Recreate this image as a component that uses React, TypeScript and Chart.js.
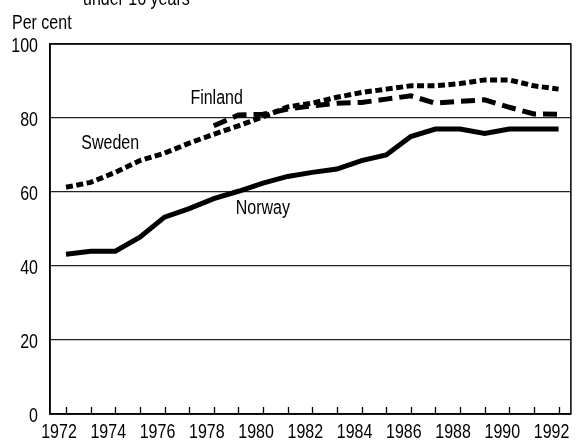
import React, { useEffect, useRef } from "react";
import { Chart, registerables } from "chart.js";

Chart.register(...registerables);

const years = [1972, 1973, 1974, 1975, 1976, 1977, 1978, 1979, 1980, 1981, 1982, 1983, 1984, 1985, 1986, 1987, 1988, 1989, 1990, 1991, 1992];
const norway = [43.2, 44, 44, 47.8, 53.2, 55.5, 58.2, 60.2, 62.4, 64.2, 65.3, 66.2, 68.5, 70, 75, 77, 77, 75.8, 77, 77, 77];
const sweden = [61.3, 62.6, 65.3, 68.5, 70.5, 73.2, 75.6, 77.9, 80.3, 83, 84, 85.6, 86.9, 87.8, 88.7, 88.7, 89.3, 90.3, 90.3, 88.7, 87.8];
const finland: (number | null)[] = [null, null, null, null, null, null, 77.9, 80.8, 81, 82.4, 83.3, 84, 84.2, 85.1, 86, 84, 84.5, 84.9, 82.9, 81.1, 81];
const yTicks = [0, 20, 40, 60, 80, 100];

const seriesLabels = [
  { text: "Finland", x: 1977.05, y: 85.2 },
  { text: "Sweden", x: 1972.62, y: 73.1 },
  { text: "Norway", x: 1978.89, y: 55.6 },
];

const FONT_FAMILY = '"Liberation Sans", Arial, sans-serif';
const FONT_SIZE = 20;
const CONDENSE = 0.8;

export default function App() {
  const ref = useRef<HTMLCanvasElement>(null);
  useEffect(() => {
    const canvas = ref.current;
    if (!canvas) return;
    const font = { family: FONT_FAMILY, size: FONT_SIZE };
    const condensedText = {
      id: "condensedText",
      beforeInit(chart: any) {
        const ctx = chart.ctx;
        if (ctx.__condensed) return;
        const orig = ctx.fillText.bind(ctx);
        ctx.fillText = function (text: string, x: number, y: number, maxWidth?: number) {
          ctx.save();
          ctx.translate(x, y);
          ctx.scale(CONDENSE, 1);
          if (maxWidth !== undefined) orig(text, 0, 0, maxWidth / CONDENSE);
          else orig(text, 0, 0);
          ctx.restore();
        };
        ctx.__condensed = true;
      },
    };
    const overlay = {
      id: "overlay",
      afterDatasetsDraw(chart: any) {
        const { ctx, chartArea, scales } = chart;
        const xs = scales.x;
        const ys = scales.y;
        ctx.save();
        ctx.strokeStyle = "#000";
        ctx.lineWidth = 1.5;
        ctx.strokeRect(chartArea.left, chartArea.top, chartArea.right - chartArea.left, chartArea.bottom - chartArea.top);
        ctx.lineWidth = 1.3;
        ctx.beginPath();
        years.forEach((yr) => {
          const px = Math.round(xs.getPixelForValue(yr)) + 0.5;
          ctx.moveTo(px, chartArea.bottom);
          ctx.lineTo(px, chartArea.bottom - 7);
        });
        ctx.stroke();
        ctx.fillStyle = "#000";
        ctx.font = `${FONT_SIZE}px ${FONT_FAMILY}`;
        ctx.textAlign = "left";
        ctx.textBaseline = "middle";
        seriesLabels.forEach((l) => {
          ctx.fillText(l.text, xs.getPixelForValue(l.x), ys.getPixelForValue(l.y));
        });
        ctx.textBaseline = "alphabetic";
        ctx.fillText("Per cent", 12, 29);
        ctx.fillText("under 16 years", 83, 5);
        ctx.restore();
      },
    };
    const chart = new Chart(canvas, {
      type: "line",
      data: {
        datasets: [
          {
            label: "Norway",
            data: years.map((y, i) => ({ x: y, y: norway[i] })),
            borderColor: "#000",
            borderWidth: 5,
            pointRadius: 0,
            tension: 0,
            fill: false,
          },
          {
            label: "Sweden",
            data: years.map((y, i) => ({ x: y, y: sweden[i] })),
            borderColor: "#000",
            borderWidth: 5,
            borderDash: [7, 3.5],
            borderCapStyle: "butt",
            pointRadius: 0,
            tension: 0,
            fill: false,
          },
          {
            label: "Finland",
            data: years.map((y, i) => ({ x: y, y: finland[i] as any })),
            borderColor: "#000",
            borderWidth: 5,
            borderDash: [14, 7],
            borderCapStyle: "butt",
            pointRadius: 0,
            tension: 0,
            fill: false,
            spanGaps: false,
          },
        ],
      },
      options: {
        animation: false,
        responsive: false,
        devicePixelRatio: 1,
        layout: { padding: { top: 44, right: 8, left: 0, bottom: 0 } },
        plugins: { legend: { display: false }, tooltip: { enabled: false }, title: { display: false } },
        scales: {
          x: {
            type: "linear",
            min: 1971.35,
            max: 1992.5,
            afterBuildTicks: (s: any) => {
              s.ticks = years.map((v) => ({ value: v }));
            },
            afterFit: (s: any) => {
              s.height = 27;
            },
            ticks: {
              autoSkip: false,
              maxRotation: 0,
              minRotation: 0,
              padding: 6,
              labelOffset: -7,
              color: "#000",
              font,
              callback: (v: any) => (Number(v) % 2 === 0 ? String(v) : ""),
            },
            grid: { display: false, drawTicks: false },
            border: { display: true, color: "#000", width: 1.5 },
          },
          y: {
            type: "linear",
            min: 0,
            max: 100,
            afterBuildTicks: (s: any) => {
              s.ticks = yTicks.map((v) => ({ value: v }));
            },
            afterFit: (s: any) => {
              s.width = 50;
            },
            ticks: {
              padding: 12,
              labelOffset: 2,
              color: "#000",
              font,
            },
            grid: { color: "#222", lineWidth: 1.3, drawTicks: false },
            border: { display: true, color: "#000", width: 1.5 },
          },
        },
      },
      plugins: [condensedText, overlay],
    } as any);
    return () => chart.destroy();
  }, []);
  return (
    <div style={{ position: "absolute", left: 0, top: 0, width: 587, height: 441, background: "#fff" }}>
      <canvas ref={ref} width={587} height={441} />
    </div>
  );
}
